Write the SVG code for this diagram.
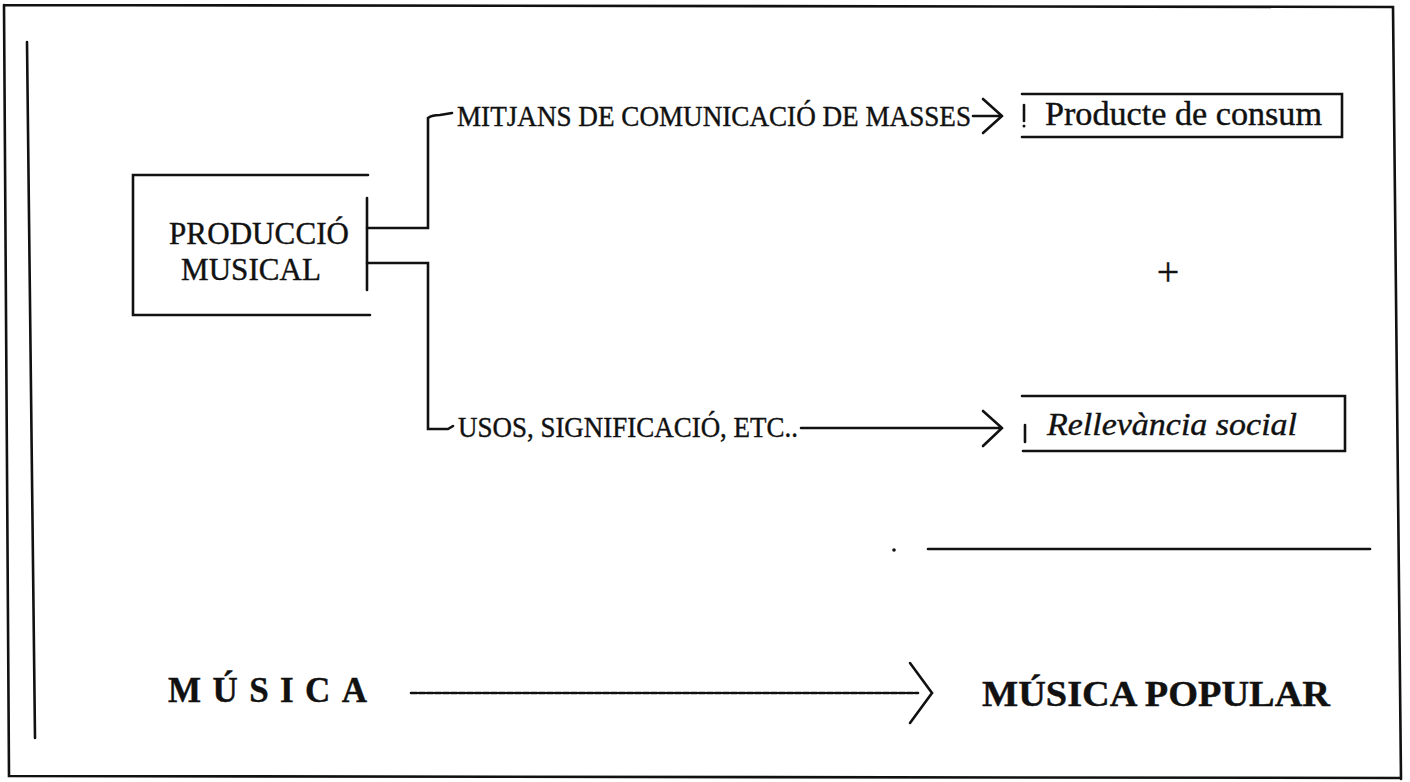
<svg xmlns="http://www.w3.org/2000/svg" width="1410" height="782" viewBox="0 0 1410 782">
<defs>
<style>
.ln{fill:none;stroke:#111;stroke-width:2.6;stroke-linecap:round;stroke-linejoin:miter}
.tx{font-family:'Liberation Serif','DejaVu Serif','Times New Roman',serif;fill:#111;stroke:#111;stroke-width:0.4}
.b{font-weight:bold}
.it{font-style:italic}
</style>
</defs>
<rect width="1410" height="782" fill="#fff"/>
<g id="frame">
<path class="ln" d="M4,5 L1393,7 L1401,779 M4,5 L9,776 L1401,778"/>
<path class="ln" d="M27,42 L35,738"/>
</g>
<g id="node-produccio">
<path class="ln" d="M368,175 L133,175 L133,315 L370,315"/>
<path class="ln" d="M367,198 L367,290"/>
<text class="tx" font-family="Liberation Serif, DejaVu Serif, serif" x="169" y="244" font-size="31" textLength="180">PRODUCCIÓ</text>
<text class="tx" font-family="Liberation Serif, DejaVu Serif, serif" x="181" y="280" font-size="31" textLength="140">MUSICAL</text>
</g>
<g id="connectors">
<path class="ln" d="M367,228 L428,228 L428,118 Q432,115 440,115 L452,113"/>
<path class="ln" d="M367,263 L428,263 L428,429 L448,429 L453,426"/>
<path class="ln" d="M973,116 L1002,116 M983,99 L1002,116 L983,133"/>
<path class="ln" d="M801,428 L1002,428 M983,411 L1002,428 L983,446"/>
<path class="ln" d="M411,693 L918,693" stroke-width="3.4" stroke-dasharray="6 2" stroke-linecap="butt"/>
<path class="ln" d="M910,663 L932,693 L910,723"/>
</g>
<g id="label-mitjans">
<text class="tx" font-family="Liberation Serif, DejaVu Serif, serif" x="457" y="126" font-size="30" textLength="514" lengthAdjust="spacingAndGlyphs">MITJANS DE COMUNICACIÓ DE MASSES</text>
</g>
<g id="label-usos">
<text class="tx" font-family="Liberation Serif, DejaVu Serif, serif" x="458" y="437" font-size="30" textLength="340" lengthAdjust="spacingAndGlyphs">USOS, SIGNIFICACIÓ, ETC..</text>
</g>
<g id="node-producte">
<path class="ln" d="M1022,94 L1342,94 L1342,137 L1022,137"/>
<path class="ln" d="M1024,105 L1024,121"/>
<circle cx="1024" cy="126" r="1.5" fill="#111"/>
<text class="tx" font-family="Liberation Serif, DejaVu Serif, serif" x="1045" y="125" font-size="33" textLength="277" lengthAdjust="spacingAndGlyphs">Producte de consum</text>
</g>
<g id="node-plus">
<text class="tx" font-family="Liberation Serif, DejaVu Serif, serif" x="1168" y="285" font-size="40" text-anchor="middle">+</text>
</g>
<g id="node-rellevancia">
<path class="ln" d="M1022,396 L1345,396 L1345,451 L1023,451"/>
<path class="ln" d="M1025,425 L1025,442"/>
<text class="tx it" font-family="Liberation Serif, DejaVu Serif, serif" x="1047" y="435" font-size="32" textLength="250" lengthAdjust="spacingAndGlyphs">Rellevància social</text>
</g>
<g id="rule">
<path class="ln" d="M928,549 L1370,549" stroke-width="3"/>
<circle cx="894" cy="550" r="1.8" fill="#111"/>
</g>
<g id="node-musica">
<text class="tx b" font-family="Liberation Serif, DejaVu Serif, serif" x="168" y="702" font-size="35" textLength="199">MÚSICA</text>
</g>
<g id="node-musica-popular">
<text class="tx b" font-family="Liberation Serif, DejaVu Serif, serif" x="982" y="706" font-size="36" textLength="348" lengthAdjust="spacingAndGlyphs">MÚSICA POPULAR</text>
</g>
</svg>
